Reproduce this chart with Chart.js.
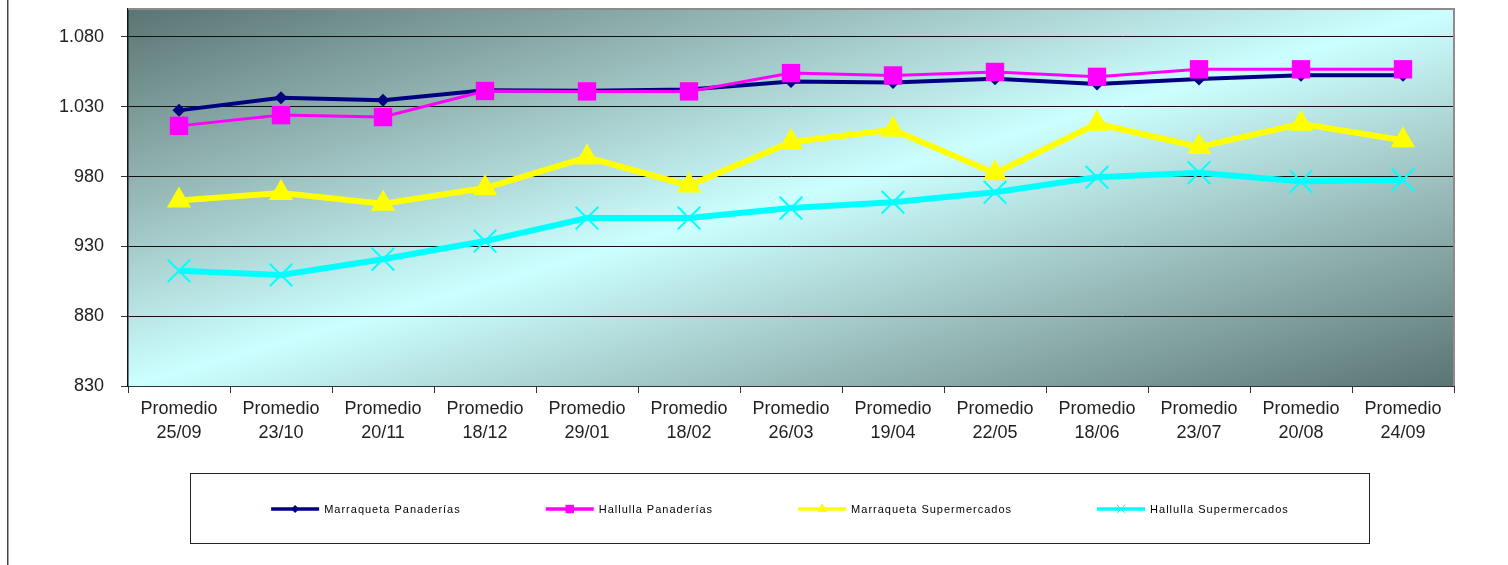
<!DOCTYPE html>
<html>
<head>
<meta charset="utf-8">
<script src="https://cdn.jsdelivr.net/npm/chart.js@4/dist/chart.umd.min.js"></script>
<style>
  body { margin: 0; background: #fff; }
  #wrap { position: relative; width: 1508px; height: 565px; }
</style>
</head>
<body>
<div id="wrap"><canvas id="myChart" width="1508" height="565"></canvas></div>
<script>
// fechas de cada promedio
const fechas = ['25/09', '23/10', '20/11', '18/12', '29/01', '18/02', '26/03', '19/04', '22/05', '18/06', '23/07', '20/08', '24/09'];
const seriesNames = ['Marraqueta Panaderías', 'Hallulla Panaderías', 'Marraqueta Supermercados', 'Hallulla Supermercados'];

const marraquetaPanaderias = [1027.4, 1036.4, 1034.7, 1041.8, 1041.5, 1042.3, 1048.1, 1047.3, 1050.0, 1046.2, 1049.9, 1052.5, 1052.5];
const hallullaPanaderias = [1016.3, 1024.0, 1022.6, 1041.3, 1041.0, 1041.0, 1054.1, 1052.4, 1054.9, 1051.4, 1056.8, 1056.8, 1056.8];
const marraquetaSuper = [962.8, 968.3, 960.5, 971.8, 993.7, 973.6, 1004.8, 1013.5, 982.4, 1017.8, 1001.2, 1017.8, 1006.0];
const hallullaSuper = [912.5, 909.5, 920.8, 933.8, 950.3, 950.3, 957.4, 961.6, 968.7, 979.5, 982.8, 976.5, 977.7];

const yTicks = [830, 880, 930, 980, 1030, 1080];
const yMin = 830, yMax = 1100;

const labels = fechas.map(f => ['Promedio', f]);

function fmt(v) {
    // separador de miles con punto
    const s = String(Math.round(v));
    return s.length > 3 ? s.slice(0, s.length - 3) + '.' + s.slice(-3) : s;
}

const FONT = '"Liberation Sans", Arial, sans-serif';

// fondo degradado del área de trazado
const plotBg = {
    id: 'plotBg',
    beforeDraw(chart) {
        const a = chart.chartArea, ctx = chart.ctx;
        ctx.save();
        ctx.translate(a.left, a.top);
        ctx.scale(a.right - a.left, a.bottom - a.top);
        const g = ctx.createLinearGradient(0, 0, 1, 1);
        g.addColorStop(0, '#5a7573');
        g.addColorStop(0.25, '#96b8b6');
        g.addColorStop(0.5, '#ccffff');
        g.addColorStop(0.75, '#96b8b6');
        g.addColorStop(1, '#5a7573');
        ctx.fillStyle = g;
        ctx.fillRect(0, 0, 1, 1);
        ctx.restore();
    },
    afterDraw(chart) {
        const a = chart.chartArea, ctx = chart.ctx;
        ctx.save();
        ctx.strokeStyle = '#8c8c8c';
        ctx.lineWidth = 2;
        ctx.beginPath();
        ctx.moveTo(a.left, a.top);
        ctx.lineTo(a.right, a.top);
        ctx.lineTo(a.right, a.bottom);
        ctx.stroke();
        // línea del marco a la izquierda
        ctx.fillStyle = '#444';
        ctx.fillRect(7, 0, 1.5, chart.height);
        ctx.restore();
    }
};

// leyenda en recuadro bajo el gráfico
const legendMarks = { rectRot: 4, rect: 6, triangle: 6, crossRot: 6 };
const boxLegend = {
    id: 'boxLegend',
    afterDraw(chart) {
        const ctx = chart.ctx;
        const bx = 190.5, by = 473.5, bw = 1179, bh = 70;
        ctx.save();
        ctx.strokeStyle = '#222';
        ctx.lineWidth = 1;
        ctx.strokeRect(bx, by, bw, bh);
        ctx.font = '11px ' + FONT;
        ctx.letterSpacing = '1px';
        ctx.textBaseline = 'middle';
        const lineLen = 48, gapText = 5, gapItem = 85;
        const ds = chart.data.datasets;
        const widths = ds.map(d => ctx.measureText(d.label).width);
        let total = widths.reduce((s, w) => s + w + lineLen + gapText, 0) + gapItem * (ds.length - 1);
        let x = bx + bw / 2 - total / 2;
        const y = 509;
        ds.forEach((d, i) => {
            ctx.strokeStyle = d.borderColor;
            ctx.lineWidth = 3.5;
            ctx.beginPath();
            ctx.moveTo(x, y);
            ctx.lineTo(x + lineLen, y);
            ctx.stroke();
            ctx.fillStyle = d.pointBackgroundColor;
            ctx.strokeStyle = d.pointBorderColor;
            ctx.lineWidth = 1;
            Chart.helpers.drawPoint(ctx, {
                pointStyle: d.pointStyle,
                radius: legendMarks[d.pointStyle],
                rotation: 0,
                borderWidth: d.pointStyle === 'crossRot' ? 1 : 0
            }, x + lineLen / 2, y);
            ctx.fillStyle = '#000';
            ctx.fillText(d.label, x + lineLen + gapText, y + 1);
            x += lineLen + gapText + widths[i] + gapItem;
        });
        ctx.restore();
    }
};

const canvas = document.getElementById('myChart');
const ctx = canvas.getContext('2d');
ctx.letterSpacing = '1.2px';

new Chart(ctx, {
    type: 'line',
    data: {
        labels: labels,
        datasets: [
            {
                label: seriesNames[0], data: marraquetaPanaderias, order: 4,
                borderColor: '#000080', borderWidth: 4,
                pointStyle: 'rectRot', pointRadius: 6.5,
                pointBackgroundColor: '#000080', pointBorderColor: '#000080', pointBorderWidth: 0
            },
            {
                label: seriesNames[1], data: hallullaPanaderias, order: 3,
                borderColor: '#ff00ff', borderWidth: 3,
                pointStyle: 'rect', pointRadius: 13,
                pointBackgroundColor: '#ff00ff', pointBorderColor: '#ff00ff', pointBorderWidth: 0
            },
            {
                label: seriesNames[2], data: marraquetaSuper, order: 2,
                borderColor: '#ffff00', borderWidth: 6,
                pointStyle: 'triangle', pointRadius: 14,
                pointBackgroundColor: '#ffff00', pointBorderColor: '#ffff00', pointBorderWidth: 0
            },
            {
                label: seriesNames[3], data: hallullaSuper, order: 1,
                borderColor: '#00ffff', borderWidth: 6,
                pointStyle: 'crossRot', pointRadius: 16,
                pointBackgroundColor: '#00ffff', pointBorderColor: '#00ffff', pointBorderWidth: 2
            }
        ]
    },
    options: {
        responsive: false,
        animation: false,
        events: [],
        clip: false,
        elements: { line: { tension: 0 } },
        layout: { autoPadding: false, padding: { left: 8, right: 54, top: 9, bottom: 79 } },
        plugins: { legend: { display: false }, tooltip: { enabled: false } },
        scales: {
            x: {
                offset: true,
                grid: { offset: true, drawOnChartArea: false, drawTicks: true, tickLength: 7, color: '#333' },
                border: { color: '#333', width: 1 },
                ticks: {
                    autoSkip: false, maxRotation: 0, padding: 4, color: '#222',
                    font: { family: FONT, size: 18, lineHeight: 1.33 }
                },
                afterFit(s) { s.height = 100; s.paddingLeft = 0; s.paddingRight = 0; }
            },
            y: {
                min: yMin, max: yMax,
                afterBuildTicks(s) { s.ticks = yTicks.map(v => ({ value: v })); },
                grid: { color: '#111', lineWidth: 1, tickLength: 7, tickColor: '#333' },
                border: { color: '#111', width: 1.5 },
                ticks: {
                    padding: 17, color: '#222',
                    font: { family: FONT, size: 18 },
                    callback: v => fmt(v)
                },
                afterFit(s) { s.width = 120; s.paddingTop = 0; s.paddingBottom = 0; }
            }
        }
    },
    plugins: [plotBg, boxLegend]
});
</script>
</body>
</html>
